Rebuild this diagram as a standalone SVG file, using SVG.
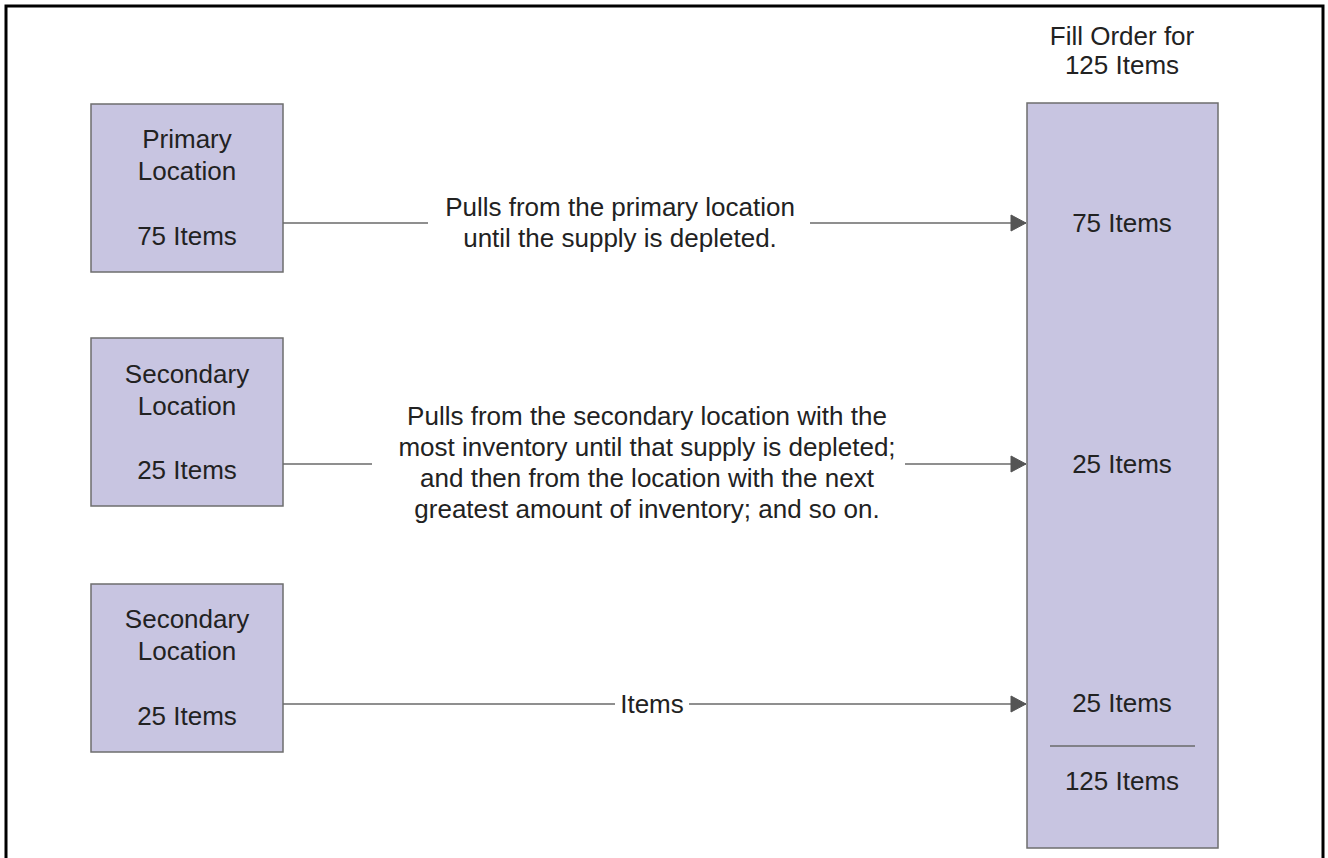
<svg xmlns="http://www.w3.org/2000/svg" width="1328" height="858" viewBox="0 0 1328 858">
  <style>
    .box { fill: #c8c5e1; stroke: #6e6e6e; stroke-width: 1.5; }
    .t { font-family: "Liberation Sans", Arial, sans-serif; font-size: 26px; fill: #222; text-anchor: middle; }
    .ln { stroke: #6a6a6a; stroke-width: 1.5; fill: none; }
  </style>
  <defs>
    <marker id="arrow" markerUnits="userSpaceOnUse" markerWidth="18" markerHeight="18" viewBox="0 0 18 18" refX="17" refY="9" orient="auto">
      <path d="M2,1 L17,9 L2,17 Z" fill="#555" stroke="#555" stroke-width="1" stroke-linejoin="round"/>
    </marker>
  </defs>

  <!-- frame, open at the bottom -->
  <path d="M6,858 V6 H1323 V858" fill="none" stroke="#000" stroke-width="3"/>

  <g id="primary">
    <rect class="box" x="91" y="104" width="192" height="168"/>
    <text class="t" x="187" y="148">Primary</text>
    <text class="t" x="187" y="180">Location</text>
    <text class="t" x="187" y="245">75 Items</text>
  </g>

  <g id="secondary1">
    <rect class="box" x="91" y="338" width="192" height="168"/>
    <text class="t" x="187" y="383">Secondary</text>
    <text class="t" x="187" y="415">Location</text>
    <text class="t" x="187" y="479">25 Items</text>
  </g>

  <g id="secondary2">
    <rect class="box" x="91" y="584" width="192" height="168"/>
    <text class="t" x="187" y="628">Secondary</text>
    <text class="t" x="187" y="660">Location</text>
    <text class="t" x="187" y="725">25 Items</text>
  </g>

  <g id="order">
    <text class="t" x="1122" y="45">Fill Order for</text>
    <text class="t" x="1122" y="74">125 Items</text>
    <rect class="box" x="1027" y="103" width="191" height="745"/>
    <text class="t" x="1122" y="232">75 Items</text>
    <text class="t" x="1122" y="473">25 Items</text>
    <text class="t" x="1122" y="712">25 Items</text>
    <line class="ln" x1="1050" y1="746" x2="1195" y2="746"/>
    <text class="t" x="1122" y="790">125 Items</text>
  </g>

  <g id="connectors">
    <line class="ln" x1="283" y1="223" x2="428" y2="223"/>
    <line class="ln" x1="810" y1="223" x2="1026" y2="223" marker-end="url(#arrow)"/>
    <text class="t" x="620" y="216">Pulls from the primary location</text>
    <text class="t" x="620" y="247">until the supply is depleted.</text>

    <line class="ln" x1="283" y1="464" x2="372" y2="464"/>
    <line class="ln" x1="905" y1="464" x2="1026" y2="464" marker-end="url(#arrow)"/>
    <text class="t" x="647" y="425">Pulls from the secondary location with the</text>
    <text class="t" x="647" y="456">most inventory until that supply is depleted;</text>
    <text class="t" x="647" y="487">and then from the location with the next</text>
    <text class="t" x="647" y="518">greatest amount of inventory; and so on.</text>

    <line class="ln" x1="283" y1="704" x2="615" y2="704"/>
    <line class="ln" x1="689" y1="704" x2="1026" y2="704" marker-end="url(#arrow)"/>
    <text class="t" x="652" y="713">Items</text>
  </g>
</svg>
